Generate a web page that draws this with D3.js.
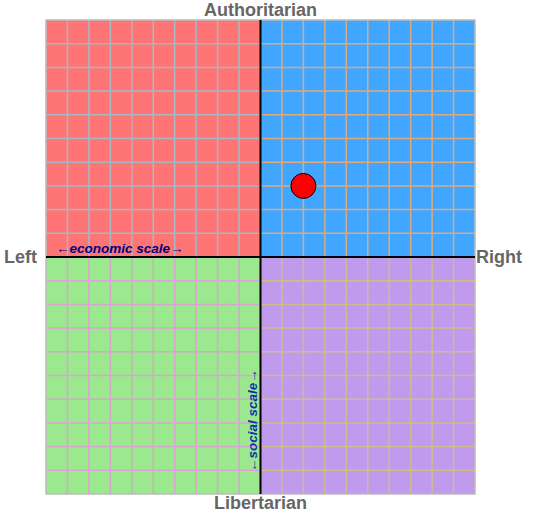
<!DOCTYPE html>
<html>
<head>
<meta charset="utf-8">
<script src="https://d3js.org/d3.v7.min.js"></script>
<style>body{margin:0;background:#fff}</style>
</head>
<body>
<script>
var quadrants = [
  {x: [-10, 0], y: [0, 10], fill: "#ff7575", grid: "#a4b9c4"},
  {x: [0, 10], y: [0, 10], fill: "#41a6ff", grid: "#e0aa78"},
  {x: [-10, 0], y: [-10, 0], fill: "#9be88f", grid: "#d8a4d0"},
  {x: [0, 10], y: [-10, 0], fill: "#c09aec", grid: "#cdbd8c"}
]
var points = [[2, 3]]
var gridSteps = d3.range(-10, 11)

var w = 550, h = 513
var svg = d3.select("body").append("svg").attr("width", w).attr("height", h)
  .style("font-family", "Liberation Sans, Arial, sans-serif")

var x = d3.scaleLinear().domain([-10, 10]).range([46, 475])
var y = d3.scaleLinear().domain([-10, 10]).range([494, 20])

quadrants.forEach(function (q) {
  var g = svg.append("g")
  g.append("rect")
    .attr("x", x(q.x[0])).attr("y", y(q.y[1]))
    .attr("width", x(q.x[1]) - x(q.x[0]))
    .attr("height", y(q.y[0]) - y(q.y[1]))
    .attr("fill", q.fill)
  var xs = gridSteps.filter(function (v) { return v > q.x[0] && v < q.x[1] })
  var ys = gridSteps.filter(function (v) { return v > q.y[0] && v < q.y[1] })
  g.selectAll("line.v").data(xs).enter().append("line")
    .attr("x1", x).attr("x2", x)
    .attr("y1", y(q.y[1])).attr("y2", y(q.y[0]))
    .attr("stroke", q.grid).attr("stroke-width", 1.5)
  g.selectAll("line.h").data(ys).enter().append("line")
    .attr("y1", y).attr("y2", y)
    .attr("x1", x(q.x[0])).attr("x2", x(q.x[1]))
    .attr("stroke", q.grid).attr("stroke-width", 1.5)
})

// outer border
svg.append("rect")
  .attr("x", x(-10)).attr("y", y(10))
  .attr("width", x(10) - x(-10)).attr("height", y(-10) - y(10))
  .attr("fill", "none").attr("stroke", "#bbb").attr("stroke-width", 1.5)

// axes
svg.append("line").attr("x1", x(-10)).attr("x2", x(10)).attr("y1", y(0)).attr("y2", y(0))
  .attr("stroke", "#000").attr("stroke-width", 2)
svg.append("line").attr("x1", x(0)).attr("x2", x(0)).attr("y1", y(10)).attr("y2", y(-10))
  .attr("stroke", "#000").attr("stroke-width", 2)

// labels
function label(t, lx, ly, anchor) {
  svg.append("text").text(t).attr("x", lx).attr("y", ly).attr("text-anchor", anchor)
    .attr("fill", "#666").attr("font-weight", "bold").attr("font-size", 18)
}
label("Authoritarian", x(0), 16, "middle")
label("Libertarian", x(0), 509, "middle")
label("Left", 4, y(0) + 6, "start")
label("Right", 476, y(0) + 6, "start")

svg.append("text").text("\u2190economic scale\u2192")
  .attr("x", 56).attr("y", y(0) - 4)
  .attr("fill", "#000080").attr("font-size", 13.5).attr("font-style", "italic").attr("font-weight", "bold")
svg.append("text").text("\u2190social scale\u2192")
  .attr("transform", "translate(" + (x(0) - 4) + "," + 472 + ") rotate(-90)")
  .attr("fill", "#1030b0").attr("font-size", 13.5).attr("font-style", "italic").attr("font-weight", "bold")

// point
svg.selectAll("circle.pt").data(points).enter().append("circle")
  .attr("cx", function (d) { return x(d[0]) })
  .attr("cy", function (d) { return y(d[1]) })
  .attr("r", 12.5)
  .attr("fill", "#ff0000").attr("stroke", "#000").attr("stroke-width", 1)
</script>
</body>
</html>
